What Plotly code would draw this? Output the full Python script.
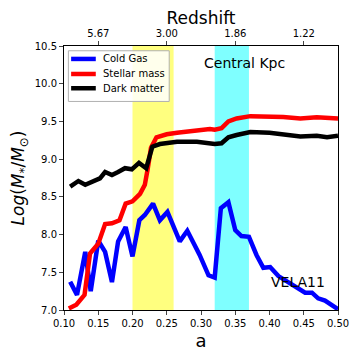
import plotly.graph_objects as go

# Cold gas
a_gas = [0.109, 0.119, 0.131, 0.139, 0.15, 0.16, 0.17, 0.179, 0.19, 0.2, 0.21, 0.218, 0.23, 0.24, 0.251,
         0.269, 0.28, 0.298, 0.311, 0.32, 0.329, 0.34, 0.35, 0.359, 0.37, 0.381, 0.391, 0.401, 0.413,
         0.425, 0.44, 0.452, 0.462, 0.471, 0.481, 0.491, 0.5]
cold_gas = [7.375, 7.20, 7.77, 7.25, 7.92, 7.77, 7.37, 7.91, 8.10, 7.71, 8.19, 8.26, 8.41, 8.19, 8.30,
            7.91, 8.05, 7.73, 7.46, 7.43, 8.35, 8.43, 8.06, 7.98, 7.97, 7.73, 7.56, 7.57, 7.45,
            7.38, 7.30, 7.23, 7.23, 7.155, 7.125, 7.07, 7.01]

# Stellar mass
a_star = [0.107, 0.118, 0.13, 0.138, 0.15, 0.16, 0.17, 0.181, 0.19, 0.2, 0.211, 0.218, 0.222, 0.227,
          0.235, 0.25, 0.265, 0.29, 0.313, 0.32, 0.33, 0.34, 0.352, 0.372, 0.4, 0.42, 0.445, 0.469, 0.5]
stellar = [7.02, 7.07, 7.20, 7.75, 7.88, 8.14, 8.15, 8.19, 8.41, 8.44, 8.54, 8.66, 8.86, 9.15,
           9.29, 9.33, 9.35, 9.38, 9.40, 9.39, 9.41, 9.50, 9.54, 9.57, 9.57, 9.56, 9.54, 9.555, 9.54]

# Dark matter
a_dm = [0.109, 0.121, 0.131, 0.143, 0.1525, 0.16, 0.17, 0.179, 0.189, 0.199, 0.2095, 0.22, 0.229, 0.24,
        0.265, 0.294, 0.308, 0.32, 0.33, 0.34, 0.352, 0.372, 0.4, 0.42, 0.445, 0.469, 0.484, 0.5]
dark = [8.635, 8.71, 8.66, 8.70, 8.745, 8.83, 8.79, 8.83, 8.88, 8.865, 8.95, 8.88, 9.165, 9.20,
        9.23, 9.23, 9.21, 9.20, 9.21, 9.29, 9.32, 9.36, 9.35, 9.33, 9.30, 9.31, 9.29, 9.31]

series_names = ["Cold Gas", "Stellar mass", "Dark matter"]
series_colors = ["#0000ff", "#ff0000", "#000000"]

top_tick_a = [0.15, 0.25, 0.35, 0.45]
top_tick_text = ["5.67", "3.00", "1.86", "1.22"]

yellow_band = [0.2, 0.26]
cyan_band = [0.32, 0.37]

fig = go.Figure()
for xs, ys, name, color in zip([a_gas, a_star, a_dm], [cold_gas, stellar, dark],
                               series_names, series_colors):
    fig.add_trace(go.Scatter(x=xs, y=ys, mode="lines", name=name, showlegend=False,
                             line=dict(color=color, width=4.5)))
fig.add_trace(go.Scatter(x=top_tick_a, y=[7.0] * 4, xaxis="x2", mode="markers",
                         marker=dict(opacity=0), showlegend=False, hoverinfo="skip"))

fig.add_vrect(x0=yellow_band[0], x1=yellow_band[1], fillcolor="rgba(255,255,0,0.5)",
              line_width=0, layer="below")
fig.add_vrect(x0=cyan_band[0], x1=cyan_band[1], fillcolor="rgba(0,255,255,0.5)",
              line_width=0, layer="below")

# legend box (drawn like matplotlib's legend)
fig.add_shape(type="rect", xref="paper", yref="paper", x0=0.016, x1=0.384, y0=0.79, y1=0.982,
              fillcolor="rgba(255,255,255,0.85)", line=dict(color="#b0b0b0", width=1),
              layer="above")
row_y = [0.951, 0.894, 0.84]
for yy, name, color in zip(row_y, series_names, series_colors):
    fig.add_shape(type="line", xref="paper", yref="paper", x0=0.026, x1=0.116, y0=yy, y1=yy,
                  line=dict(color=color, width=4.5), layer="above")
    fig.add_annotation(xref="paper", yref="paper", x=0.135, y=yy, text=name, showarrow=False,
                       xanchor="left", yanchor="middle", font=dict(size=10, color="black"))

font_family = "DejaVu Sans"
fig.update_layout(
    width=360, height=360,
    margin=dict(l=56, r=30, t=38, b=58),
    paper_bgcolor="white", plot_bgcolor="white",
    font=dict(family=font_family, size=10, color="black"),
    showlegend=False,
    xaxis=dict(range=[0.1, 0.5], tickvals=[0.1, 0.15, 0.2, 0.25, 0.3, 0.35, 0.4, 0.45, 0.5],
               tickformat=".2f", ticks="outside", ticklen=4, showgrid=False, zeroline=False,
               showline=True, linecolor="black", linewidth=1, automargin=False,
               title=dict(text="a", font=dict(size=18), standoff=6)),
    xaxis2=dict(range=[0.1, 0.5], overlaying="x", side="top", tickvals=top_tick_a,
                ticktext=top_tick_text, ticks="outside", ticklen=4, showgrid=False,
                zeroline=False, showline=True, linecolor="black", linewidth=1, automargin=False,
                title=dict(text="Redshift", font=dict(size=17), standoff=4)),
    yaxis=dict(range=[7.0, 10.5], tickvals=[7.0, 7.5, 8.0, 8.5, 9.0, 9.5, 10.0, 10.5],
               tickformat=".1f", ticks="outside", ticklen=4, showgrid=False, zeroline=False,
               showline=True, mirror=True, linecolor="black", linewidth=1, automargin=False,
               title=dict(text="<i>Log</i>(<i>M</i><sub>*</sub>/<i>M</i><sub>⊙</sub>)",
                          font=dict(size=17), standoff=6)),
)

fig.add_annotation(x=0.363, y=10.28, text="Central Kpc", showarrow=False,
                   font=dict(size=14, color="black"), xanchor="center", yanchor="middle")
fig.add_annotation(x=0.441, y=7.367, text="VELA11", showarrow=False,
                   font=dict(size=14, color="black"), xanchor="center", yanchor="middle")

fig.write_html("out.html")
